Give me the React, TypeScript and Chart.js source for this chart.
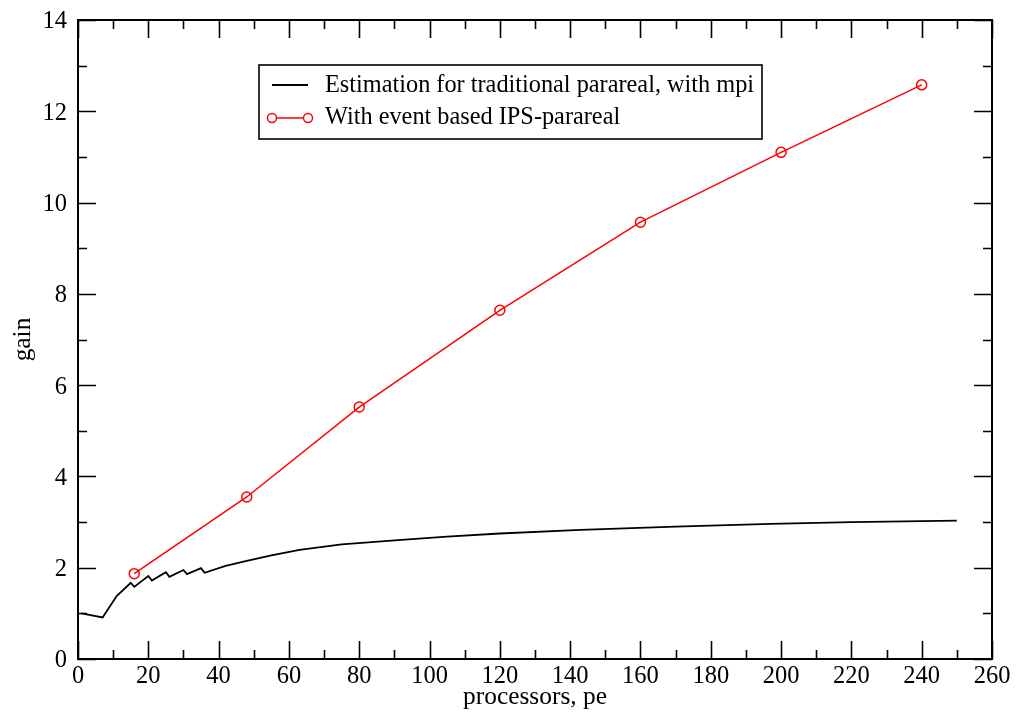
import React, { useEffect, useRef } from "react";
import { Chart, registerables } from "chart.js";

Chart.register(...registerables);

// Estimation for traditional parareal, with mpi
const mpiPe = [1, 7, 11, 15, 16, 20, 21, 25, 26, 30, 31, 35, 36, 42, 48, 55, 63, 75, 92, 105, 120, 143, 170, 197, 220, 250];
const mpiGain = [1.0, 0.91, 1.38, 1.67, 1.58, 1.82, 1.72, 1.9, 1.8, 1.95, 1.86, 1.99, 1.89, 2.04, 2.15, 2.27, 2.39, 2.51, 2.61, 2.68, 2.75, 2.83, 2.9, 2.96, 3.0, 3.03];

// With event based IPS-parareal
const ipsPe = [16, 48, 80, 120, 160, 200, 240];
const ipsGain = [1.87, 3.55, 5.52, 7.64, 9.57, 11.1, 12.58];

const seriesLabels = ["Estimation for traditional parareal, with mpi", "With event based IPS-parareal"];
const xTitle = "processors, pe";
const yTitle = "gain";

const FONT = '"Liberation Serif", "Times New Roman", serif';

const framePlugin = {
  id: "graceFrame",
  afterDraw(chart: any) {
    const { ctx, chartArea } = chart;
    const { left, right, top, bottom } = chartArea;
    const xs = chart.scales.x;
    const ys = chart.scales.y;
    ctx.save();
    ctx.strokeStyle = "#000";
    ctx.lineWidth = 2;
    ctx.strokeRect(left, top, right - left, bottom - top);
    ctx.lineWidth = 1.6;
    ctx.beginPath();
    xs.ticks.forEach((t: any) => {
      const px = Math.round(xs.getPixelForValue(t.value)) + 0.5;
      const len = Math.round(t.value) % 20 === 0 ? 18 : 9;
      ctx.moveTo(px, bottom);
      ctx.lineTo(px, bottom - len);
      ctx.moveTo(px, top);
      ctx.lineTo(px, top + len);
    });
    ys.ticks.forEach((t: any) => {
      const py = Math.round(ys.getPixelForValue(t.value)) + 0.5;
      const len = Math.round(t.value) % 2 === 0 ? 18 : 9;
      ctx.moveTo(left, py);
      ctx.lineTo(left + len, py);
      ctx.moveTo(right, py);
      ctx.lineTo(right - len, py);
    });
    ctx.stroke();

    // axis titles
    ctx.fillStyle = "#000";
    ctx.font = `25.4px ${FONT}`;
    ctx.textAlign = "center";
    ctx.textBaseline = "alphabetic";
    ctx.fillText(xTitle, (left + right) / 2, 704);
    ctx.save();
    ctx.translate(30, (top + bottom) / 2);
    ctx.rotate(-Math.PI / 2);
    ctx.fillText(yTitle, 0, 0);
    ctx.restore();

    // legend box
    const bx = left + 181;
    const by = top + 45;
    ctx.fillStyle = "#fff";
    ctx.fillRect(bx, by, 503, 74);
    ctx.lineWidth = 1.6;
    ctx.strokeStyle = "#000";
    ctx.strokeRect(bx, by, 503, 74);
    const ds = chart.data.datasets;
    // entry 1
    ctx.strokeStyle = ds[0].borderColor;
    ctx.lineWidth = ds[0].borderWidth;
    ctx.beginPath();
    ctx.moveTo(bx + 13, by + 20);
    ctx.lineTo(bx + 49, by + 20);
    ctx.stroke();
    // entry 2
    ctx.strokeStyle = ds[1].borderColor;
    ctx.lineWidth = ds[1].borderWidth;
    ctx.beginPath();
    ctx.moveTo(bx + 13, by + 53);
    ctx.lineTo(bx + 49, by + 53);
    ctx.stroke();
    ctx.lineWidth = ds[1].pointBorderWidth;
    [bx + 13, bx + 49].forEach((cx) => {
      ctx.beginPath();
      ctx.arc(cx, by + 53, 4.5, 0, Math.PI * 2);
      ctx.fillStyle = "#fff";
      ctx.fill();
      ctx.stroke();
    });
    ctx.fillStyle = "#000";
    ctx.font = `24.3px ${FONT}`;
    ctx.textAlign = "left";
    ctx.textBaseline = "alphabetic";
    ctx.fillText(ds[0].label, bx + 66, by + 27);
    ctx.fillText(ds[1].label, bx + 66, by + 59);
    ctx.restore();
  },
};

export default function App() {
  const canvasRef = useRef<HTMLCanvasElement | null>(null);

  useEffect(() => {
    document.body.style.margin = "0";
    const canvas = canvasRef.current;
    if (!canvas) return;
    const chart = new Chart(canvas, {
      type: "line",
      data: {
        datasets: [
          {
            label: seriesLabels[0],
            data: mpiPe.map((x, i) => ({ x, y: mpiGain[i] })),
            borderColor: "#000000",
            borderWidth: 1.8,
            pointRadius: 0,
            fill: false,
            tension: 0,
          },
          {
            label: seriesLabels[1],
            data: ipsPe.map((x, i) => ({ x, y: ipsGain[i] })),
            borderColor: "#ff0000",
            borderWidth: 1.5,
            pointRadius: 5,
            pointStyle: "circle",
            pointBorderColor: "#ff0000",
            pointBackgroundColor: "rgba(255,255,255,0)",
            pointBorderWidth: 1.5,
            fill: false,
            tension: 0,
          },
        ],
      },
      options: {
        responsive: false,
        maintainAspectRatio: false,
        animation: false,
        layout: { padding: { left: 0, top: 20, right: 29, bottom: 0 } },
        plugins: {
          legend: { display: false },
          tooltip: { enabled: false },
        },
        scales: {
          x: {
            type: "linear",
            min: 0,
            max: 260,
            grid: { display: false, drawTicks: false },
            border: { display: false },
            ticks: {
              stepSize: 10,
              autoSkip: false,
              maxRotation: 0,
              padding: 3,
              color: "#000",
              font: { family: FONT, size: 24.5 },
              callback: (v: any) => (Math.round(v) % 20 === 0 ? String(v) : ""),
            },
            afterFit: (s: any) => {
              s.height = 57;
              s.paddingLeft = 0;
              s.paddingRight = 0;
            },
          },
          y: {
            type: "linear",
            min: 0,
            max: 14,
            grid: { display: false, drawTicks: false },
            border: { display: false },
            ticks: {
              stepSize: 1,
              autoSkip: false,
              padding: 11,
              labelOffset: 2,
              color: "#000",
              font: { family: FONT, size: 24.5 },
              callback: (v: any) => (Math.round(v) % 2 === 0 ? String(v) : ""),
            },
            afterFit: (s: any) => {
              s.width = 78;
              s.paddingTop = 0;
              s.paddingBottom = 0;
            },
          },
        },
      },
      plugins: [framePlugin],
    });
    return () => chart.destroy();
  }, []);

  return (
    <div style={{ width: 1021, height: 716, background: "#fff" }}>
      <canvas ref={canvasRef} width={1021} height={716} style={{ display: "block" }} />
    </div>
  );
}
